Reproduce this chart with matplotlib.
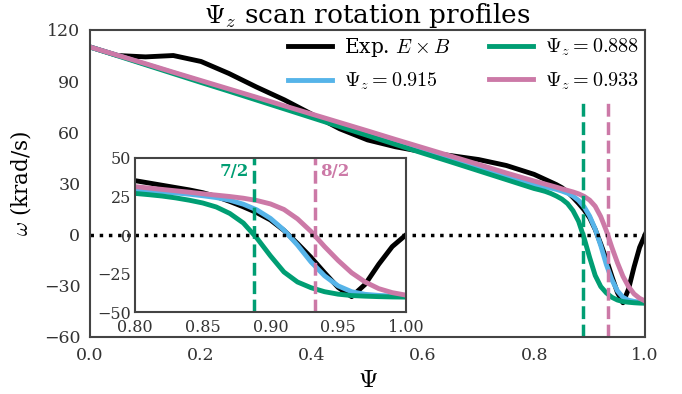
import matplotlib
matplotlib.use('Agg')
from matplotlib import pyplot as plt
import numpy as np

plt.rcParams['font.family'] = 'DejaVu Serif'
plt.rcParams['mathtext.fontset'] = 'cm'

# psi grid: coarse in the core, fine near the edge
psi = [0.00, 0.05, 0.10, 0.15, 0.20, 0.25, 0.30, 0.35, 0.40, 0.45, 0.50,
       0.55, 0.60, 0.65, 0.70, 0.75,
       0.80, 0.81, 0.82, 0.83, 0.84, 0.85, 0.86, 0.87, 0.88, 0.89, 0.90,
       0.91, 0.92, 0.93, 0.94, 0.95, 0.96, 0.97, 0.98, 0.99, 1.00]

w_exp = [110, 105, 104.2, 105, 101.5, 94.5, 86.5, 79, 70.5, 62, 55.5,
         51.5, 48.5, 46.3, 44, 40.5,
         35.3, 33.8, 32.3, 30.8, 29.3, 27.5, 25, 21.8, 18.3, 14.5, 9.8,
         3, -5.5, -14.5, -24.5, -34, -40, -32, -19, -7.5, 0]

w_888 = [110, 104.8, 99.6, 94.4, 89.2, 84.1, 78.9, 73.7, 68.5, 63.3, 58.1,
         52.9, 47.7, 42.6, 37.4, 32.2,
         27, 26.2, 25.3, 24.1, 22.6, 20.8, 18.2, 14, 7.8, -2, -13.5,
         -24, -30.5, -34.2, -36.8, -38.4, -39.3, -39.7, -40, -40.2, -40.3]

w_915 = [110, 105, 99.9, 94.9, 89.8, 84.8, 79.7, 74.7, 69.6, 64.6, 59.5,
         54.5, 49.4, 44.4, 39.3, 34.3,
         29.2, 28.6, 28, 27.3, 26.5, 25.5, 24.3, 22.6, 20, 16.3, 10.8,
         3.2, -6.5, -17.5, -26.5, -33, -36.8, -38.5, -39.2, -39.6, -39.8]

w_933 = [110, 105.1, 100.2, 95.2, 90.3, 85.4, 80.5, 75.5, 70.6, 65.7, 60.8,
         55.8, 50.9, 46, 41.1, 36.1,
         31.4, 30.5, 29.6, 28.7, 27.8, 26.8, 25.9, 25, 23.9, 22.4, 20.2,
         16.6, 10.5, 2.3, -7.5, -16.5, -24.5, -30.5, -34.8, -37.4, -39]

psi_z = [0.888, 0.933]
surf_labels = ['7/2', '8/2']

c_blue = '#56B4E9'
c_green = '#009E73'
c_pink = '#CC79A7'
spine_c = '#444444'

fig = plt.figure(figsize=(6.82, 3.94), dpi=100)
ax = fig.add_axes([0.132, 0.145, 0.814, 0.779])

lw = 3.5
ax.plot(psi, w_exp, color='k', lw=lw, label=r'Exp. $E\times B$')
ax.plot(psi, w_915, color=c_blue, lw=lw, label=r'$\Psi_z=0.915$')
ax.plot(psi, w_888, color=c_green, lw=lw, label=r'$\Psi_z=0.888$')
ax.plot(psi, w_933, color=c_pink, lw=lw, label=r'$\Psi_z=0.933$')
ax.axhline(0, color='k', ls=':', lw=2.5)
ax.vlines(psi_z[0], -60, 80, color=c_green, ls='--', lw=2.5)
ax.vlines(psi_z[1], -60, 80, color=c_pink, ls='--', lw=2.5)

ax.set_xlim(0, 1)
ax.set_ylim(-60, 120)
ax.set_xticks(np.arange(0, 1.01, 0.2))
ax.set_yticks(np.arange(-60, 121, 30))
ax.tick_params(length=0, labelsize=12.5, pad=7, labelcolor='#333333')
ax.set_xlabel(r'$\Psi$', fontsize=18, labelpad=4)
ax.set_ylabel(r'$\omega$ (krad/s)', fontsize=15.5, labelpad=8)
ax.set_title(r'$\Psi_z$ scan rotation profiles', fontsize=19, pad=3)
for s in ax.spines.values():
    s.set_color(spine_c)
    s.set_linewidth(1.5)

leg = ax.legend(ncol=2, loc='upper right', frameon=False, fontsize=14.5,
                handlelength=2.2, handletextpad=0.6, columnspacing=1.9,
                borderaxespad=0.0, borderpad=0.3, labelspacing=0.6)

# inset zoom on the edge
ins = fig.add_axes([0.198, 0.208, 0.397, 0.391])
ins.plot(psi, w_exp, color='k', lw=lw)
ins.plot(psi, w_915, color=c_blue, lw=lw)
ins.plot(psi, w_888, color=c_green, lw=lw)
ins.plot(psi, w_933, color=c_pink, lw=lw)
ins.axhline(0, color='k', ls=':', lw=2.5)
ins.axvline(psi_z[0], color=c_green, ls='--', lw=2.5)
ins.axvline(psi_z[1], color=c_pink, ls='--', lw=2.5)
ins.text(psi_z[0] - 0.004, 41, surf_labels[0], color=c_green, fontsize=12,
         fontweight='bold', ha='right', va='center')
ins.text(psi_z[1] + 0.004, 41, surf_labels[1], color=c_pink, fontsize=12,
         fontweight='bold', ha='left', va='center')
ins.set_xlim(0.8, 1.0)
ins.set_ylim(-50, 50)
ins.set_xticks([0.80, 0.85, 0.90, 0.95, 1.00])
ins.set_xticklabels(['0.80', '0.85', '0.90', '0.95', '1.00'])
ins.set_yticks([-50, -25, 0, 25, 50])
ins.tick_params(length=0, labelsize=11.5, pad=3, labelcolor='#333333')
ins.tick_params(axis='x', pad=5)
for s in ins.spines.values():
    s.set_color(spine_c)
    s.set_linewidth(1.5)

fig.savefig('out.png', dpi=100)
